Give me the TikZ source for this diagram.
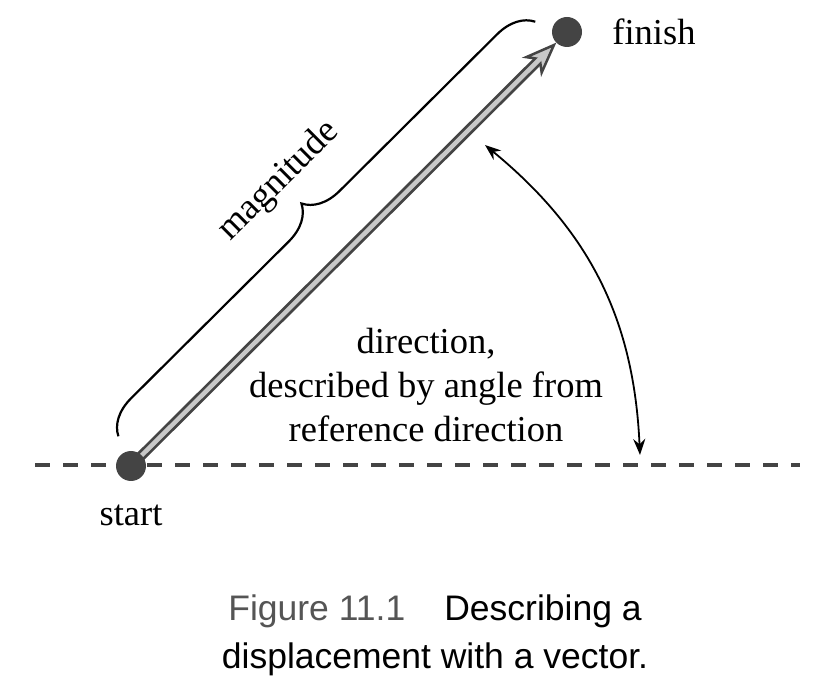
\documentclass[tikz,border=0pt]{standalone}
\usepackage{fontspec}
\setmainfont{Liberation Serif}
\newfontfamily\capfont{Liberation Sans}
\usepackage{xcolor}
\definecolor{vecDark}{HTML}{444444}
\definecolor{vecLight}{HTML}{C8C8C8}
\definecolor{capGray}{HTML}{555555}
\usetikzlibrary{arrows.meta, positioning, calc, decorations.pathreplacing, backgrounds}

\begin{document}
\begin{tikzpicture}[x=1pt, y=1pt,
  dot/.style={circle, fill=vecDark, minimum size=30pt, inner sep=0pt},
  tag/.style={font=\fontsize{36.5}{44}\selectfont, inner sep=0pt, text=black},
  refline/.style={draw=vecDark, line width=4pt, dash pattern=on 15pt off 13pt},
  angarrow/.style={{Stealth[length=16pt, width=12pt]}-{Stealth[length=16pt, width=12pt]}, line width=1.8pt},
  caption/.style={font=\capfont\fontsize{35.5}{48}\selectfont, align=center, inner sep=0pt}
]
  \useasboundingbox (0,0) rectangle (836,-684);

  % Nodes
  \node[dot] (start) at (131,-466) {};
  \node[dot] (finish) at (567,-32) {};
  \node[tag, below=24pt of start] (startlbl) {start};
  \node[tag, right=30pt of finish] (finishlbl) {finish};
  \node[tag, align=center] (dirlbl) at (426,-385) {direction,\\described by angle from\\reference direction};

  % Reference direction and vector (behind the dots)
  \coordinate (refL) at (35,-465);
  \coordinate (refR) at (800,-465);
  \coordinate (tip) at ($(finish.center)!15pt!(start.center)$);
  \coordinate (shaftend) at ($(finish.center)!36pt!(start.center)$);
  \begin{scope}[on background layer]
    \draw[refline] (refL) -- (refR);
    \draw[vecDark, line width=10pt, -{Stealth[length=35pt, width=27pt, inset=10pt, fill=vecLight, line width=2.5pt]}] (start.center) -- (tip);
    \draw[vecLight, line width=4.5pt] (start.center) -- (shaftend);
  \end{scope}

  % Magnitude brace
  \coordinate (braceA) at (118.4,-436.3);
  \coordinate (braceB) at (535.3,-21.7);
  \draw[decorate, decoration={brace, amplitude=36pt}, line width=2.2pt] (braceA) -- (braceB)
    node[tag, midway, sloped, above=50pt] (maglbl) {magnitude};

  % Angle arrow
  \coordinate (angA) at (485,-145);
  \coordinate (angB) at (640,-455);
  \draw[angarrow] (angA) to[bend left=24] (angB);

  % Caption
  \node[caption] (cap) at (435,-635) {{\color{capGray}Figure 11.1}\hspace{1.1em}Describing a\\displacement with a vector.};
\end{tikzpicture}
\end{document}
